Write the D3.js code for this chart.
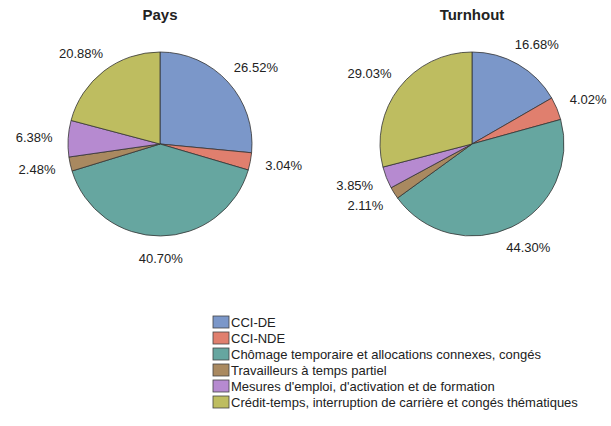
<!DOCTYPE html>
<meta charset="UTF-8">
<html>
<head>
<script src="https://cdn.jsdelivr.net/npm/d3@7"></script>
<style>
  body { margin: 0; background: #fff; }
  text { font-family: "Liberation Sans", Arial, sans-serif; fill: #222; }
</style>
</head>
<body>
<svg id="chart" width="611" height="426"></svg>
<script>
// categories + colours
var categories = ["CCI-DE", "CCI-NDE",
  "Chômage temporaire et allocations connexes, congés",
  "Travailleurs à temps partiel",
  "Mesures d'emploi, d'activation et de formation",
  "Crédit-temps, interruption de carrière et congés thématiques"];
var colors = ["#7b97c9", "#e07f6e", "#66a6a0", "#a98960", "#b68ad0", "#bebd60"];

// percentages per pie
var pays = [26.52, 3.04, 40.70, 2.48, 6.38, 20.88];
var turnhout = [16.68, 4.02, 44.30, 2.11, 3.85, 29.03];

var svg = d3.select("#chart");
var r = 92;

var pie = d3.pie().sort(null).value(function(d) { return d; });
var arc = d3.arc().innerRadius(0).outerRadius(r);

function drawPie(title, values, cx, cy) {
  var g = svg.append("g").attr("transform", "translate(" + cx + "," + cy + ")");

  svg.append("text")
    .attr("x", cx).attr("y", 20)
    .attr("text-anchor", "middle")
    .style("font-size", "15px").style("font-weight", "bold")
    .text(title);

  var arcs = pie(values);
  g.selectAll("path").data(arcs).enter().append("path")
    .attr("d", arc)
    .attr("fill", function(d, i) { return colors[i]; })
    .attr("stroke", "#333").attr("stroke-width", 0.8);

  // labels pushed outside, box edge at about r+16
  g.selectAll("text.lbl").data(arcs).enter().append("text")
    .attr("class", "lbl")
    .style("font-size", "13px")
    .attr("text-anchor", "middle")
    .attr("dy", "0.35em")
    .each(function(d) {
      var a = (d.startAngle + d.endAngle) / 2;
      var sx = Math.sin(a), sy = -Math.cos(a);
      var txt = d.data.toFixed(2) + "%";
      var hw = txt.length * 3.6;
      var x = (r + 16) * sx + sx * hw;
      var y = (r + 16) * sy + sy * 6.5;
      d3.select(this).attr("x", x).attr("y", y).text(txt);
    });
}

drawPie("Pays", pays, 160, 144);
drawPie("Turnhout", turnhout, 472, 144);

// legend
var legend = svg.append("g").attr("transform", "translate(213,316)");
var rows = legend.selectAll("g").data(categories).enter().append("g")
  .attr("transform", function(d, i) { return "translate(0," + (i * 16) + ")"; });
rows.append("rect")
  .attr("width", 16).attr("height", 12)
  .attr("fill", function(d, i) { return colors[i]; })
  .attr("stroke", "#444").attr("stroke-width", 0.8);
rows.append("text")
  .attr("x", 18).attr("y", 6).attr("dy", "0.35em")
  .style("font-size", "13px")
  .text(function(d) { return d; });
</script>
</body>
</html>
